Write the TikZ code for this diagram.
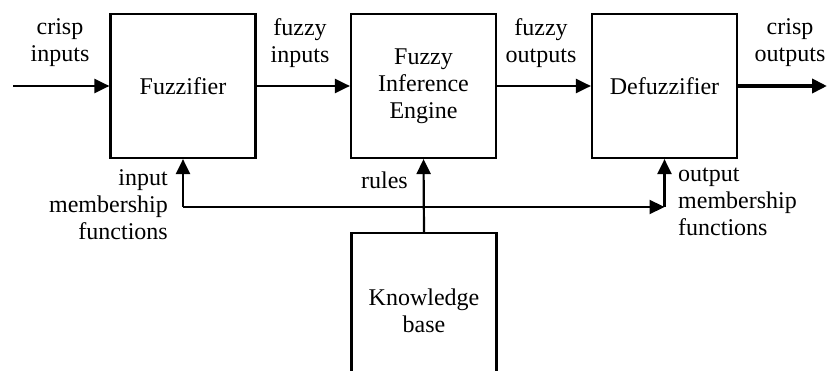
\documentclass[tikz,border=0pt]{standalone}
\usepackage{fontspec}
\setmainfont{Liberation Serif}
\usetikzlibrary{arrows.meta}
\begin{document}
\begin{tikzpicture}[x=1pt,y=-1pt,
  blk/.style={draw,line width=2.2pt,minimum width=145pt,minimum height=144pt,inner sep=0pt,align=center,font=\fontsize{24}{27}\selectfont},
  lbl/.style={inner sep=0pt,font=\fontsize{24}{27}\selectfont},
  arr/.style={line width=2.2pt,-{Triangle[length=15pt,width=14pt]}}]
\useasboundingbox (0,0) rectangle (827,371);
\clip (0,0) rectangle (827,371);
\node[blk] (fuzz) at (183,86) {Fuzzifier};
\node[blk] (eng) at (423.5,86) {Fuzzy\\Inference\\Engine};
\node[blk] (defuzz) at (664.5,86) {Defuzzifier};
\node[blk,minimum height=160pt,anchor=north] (kb) at (424,232) {};
\node[lbl,align=center] (kbt) at (424,311) {Knowledge\\base};
\coordinate (in) at (13,86);
\coordinate (out) at (827,86);
\coordinate (fbL) at (183,207);
\coordinate (fbR) at (664.5,207);
\draw[arr] (in) -- (fuzz.west);
\draw[arr] (fuzz.east) -- (eng.west);
\draw[arr] (eng.east) -- (defuzz.west);
\draw[line width=3.8pt,-{Triangle[length=15pt,width=14pt]}] (defuzz.east) -- (out);
\draw[arr] (fbL) -- (fuzz.south);
\draw[arr] (fbL) -- (fbR);
\draw[arr] (fbR) -- (defuzz.south);
\draw[arr] (kb.north) -- (eng.south);
\node[lbl,align=center] (l1) at (60,43) {crisp\\inputs};
\node[lbl,align=center] (l2) at (300,43) {fuzzy\\inputs};
\node[lbl,align=center] (l3) at (541,43) {fuzzy\\outputs};
\node[lbl,align=center] (l4) at (790,43) {crisp\\outputs};
\node[lbl,align=right,anchor=east] (l5) at (168,205) {input\\membership\\functions};
\node[lbl,anchor=east] (l6) at (408,180) {rules};
\node[lbl,align=left,anchor=west] (l7) at (678,202) {output\\membership\\functions};
\end{tikzpicture}
\end{document}
